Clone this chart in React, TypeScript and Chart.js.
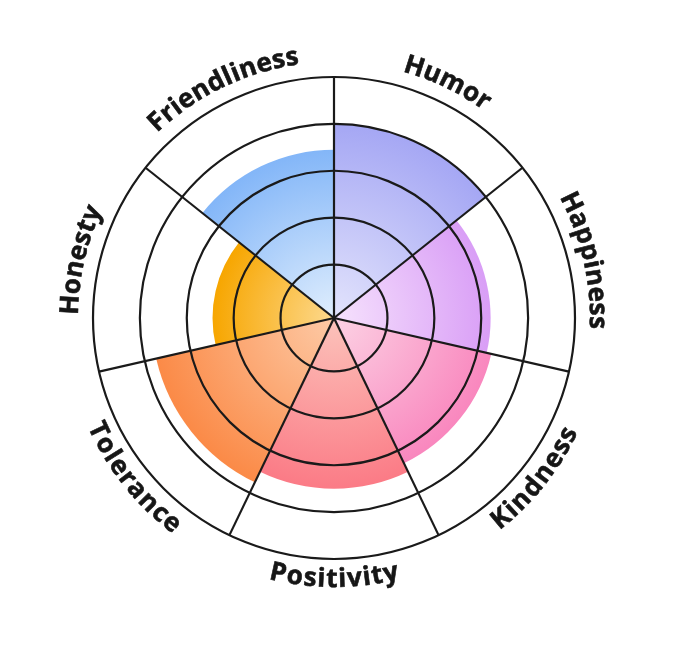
import React, { useEffect, useRef } from "react";
import { Chart, registerables } from "chart.js";

Chart.register(...registerables);

const labels = ["Humor", "Happiness", "Kindness", "Positivity", "Tolerance", "Honesty", "Friendliness"];
const values = [4.0, 3.2, 3.3, 3.5, 3.75, 2.45, 3.45];
const innerColors = ["#e3e4fc", "#f6e2fd", "#fcd2e4", "#fcc3bb", "#fdcaa6", "#fdd98e", "#e0eefd"];
const outerColors = ["#a5a7f4", "#d99ef6", "#f987be", "#fb7b86", "#fb8a47", "#f7a600", "#83b6f8"];
const gridTicks = [1, 2, 3, 4, 5];
const scaleMin = -0.14;
const scaleMax = 5;

const curvedLabels = {
  id: "curvedLabels",
  afterDraw(chart: any) {
    const s = chart.scales.r;
    const ctx = chart.ctx as CanvasRenderingContext2D;
    const cx = s.xCenter;
    const cy = s.yCenter;
    const outer = s.drawingArea;
    const spacing = 0.8;
    ctx.save();
    ctx.font = "bold 26px 'Open Sans'";
    ctx.fillStyle = "#161616";
    ctx.strokeStyle = "#161616";
    ctx.lineWidth = 0.6;
    ctx.textAlign = "center";
    ctx.textBaseline = "alphabetic";
    const n = labels.length;
    labels.forEach((lab, i) => {
      const mid = ((i + 0.5) * 2 * Math.PI) / n;
      const isBottom = Math.cos(mid) < -0.2;
      const rBase = isBottom ? outer + 28 : outer + 15;
      const rMid = isBottom ? rBase - 9 : rBase + 9;
      const chars = Array.from(lab);
      const widths = chars.map((c) => ctx.measureText(c).width);
      const total = widths.reduce((a, b) => a + b, 0) + spacing * (chars.length - 1);
      const span = total / rMid;
      let offset = 0;
      chars.forEach((c, k) => {
        const centerOff = offset + widths[k] / 2;
        const ang = isBottom ? mid + span / 2 - centerOff / rMid : mid - span / 2 + centerOff / rMid;
        const x = cx + rBase * Math.sin(ang);
        const y = cy - rBase * Math.cos(ang);
        ctx.save();
        ctx.translate(x, y);
        ctx.rotate(isBottom ? ang - Math.PI : ang);
        ctx.fillText(c, 0, 0);
        ctx.strokeText(c, 0, 0);
        ctx.restore();
        offset += widths[k] + spacing;
      });
    });
    ctx.restore();
  },
};

export default function App() {
  const canvasRef = useRef<HTMLCanvasElement | null>(null);

  useEffect(() => {
    const canvas = canvasRef.current;
    if (!canvas) return;
    const chart = new Chart(canvas, {
      type: "polarArea",
      data: {
        labels,
        datasets: [
          {
            data: values,
            borderWidth: 0,
            backgroundColor: (c: any) => {
              const ch = c.chart;
              const i = c.dataIndex;
              const s = ch.scales && ch.scales.r;
              if (!ch.chartArea || !s || s.xCenter === undefined || i === undefined) return outerColors[i ?? 0];
              const r = Math.max(1, s.getDistanceFromCenterForValue(values[i]));
              const g = ch.ctx.createRadialGradient(s.xCenter, s.yCenter, 0, s.xCenter, s.yCenter, r);
              g.addColorStop(0, innerColors[i]);
              g.addColorStop(1, outerColors[i]);
              return g;
            },
          },
        ],
      },
      options: {
        responsive: false,
        animation: false,
        layout: { padding: { left: 93, right: 105, top: 77, bottom: 93 } },
        plugins: { legend: { display: false }, tooltip: { enabled: false } },
        scales: {
          r: {
            min: scaleMin,
            max: scaleMax,
            startAngle: 0,
            afterBuildTicks: (scale: any) => {
              scale.ticks = gridTicks.map((v) => ({ value: v }));
            },
            ticks: { display: false },
            grid: { circular: true, color: "#1a1a1a", lineWidth: 2.2, z: 1 },
            angleLines: { display: true, color: "#1a1a1a", lineWidth: 2.2 },
            pointLabels: { display: false },
          },
        },
      } as any,
      plugins: [curvedLabels],
    });
    return () => chart.destroy();
  }, []);

  return (
    <div style={{ position: "absolute", left: 0, top: 0, width: 680, height: 652, background: "#fff" }}>
      <canvas ref={canvasRef} width={680} height={652} style={{ display: "block" }} />
    </div>
  );
}
